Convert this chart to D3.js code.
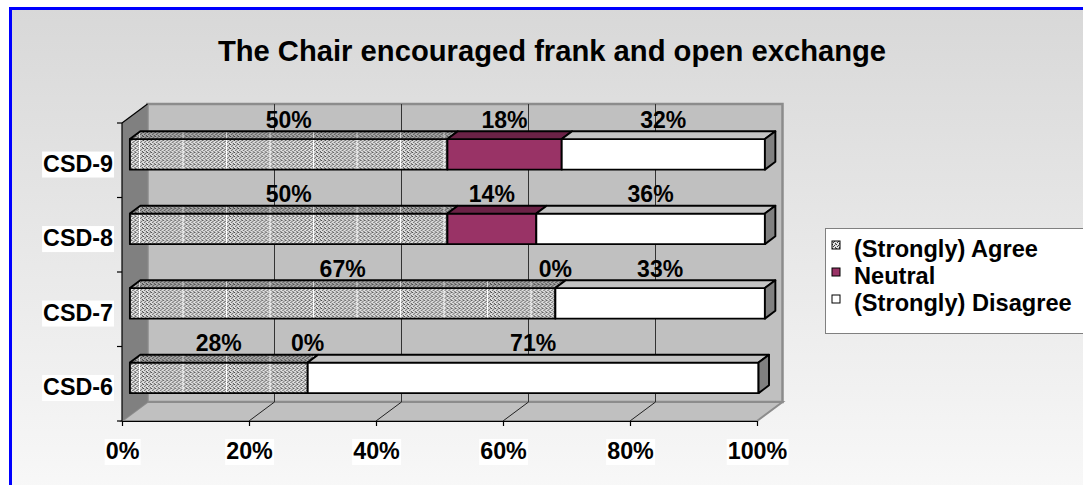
<!DOCTYPE html>
<html><head><meta charset="utf-8">
<script src="https://cdn.jsdelivr.net/npm/d3@7"></script>
<style>html,body{margin:0;padding:0;background:#fff;} svg{display:block;font-family:"Liberation Sans",Arial,sans-serif;}</style>
</head><body><svg id="c" width="1083" height="485"></svg>
<script>
const categories = ["CSD-9","CSD-8","CSD-7","CSD-6"];
const seriesNames = ["(Strongly) Agree","Neutral","(Strongly) Disagree"];
const agreeValues = [50,50,67,28];
const neutralValues = [18,14,0,0];
const disagreeValues = [32,36,33,71];
const xTickValues = [0,20,40,60,80,100];
const chartTitle = "The Chair encouraged frank and open exchange";

const W = 1083, H = 485;
const svg = d3.select("#c");
const plot = {left:122, right:757, top:123, bottom:421};
const DX = 25.5, DY = 19;          // wall depth
const zF = 0.31, zB = 0.72;        // bar depth (front/back fraction)
const barFrac = 0.41;

const x = d3.scaleLinear().domain([0,100]).range([plot.left, plot.right]);
const y = d3.scaleBand().domain(categories).range([plot.top, plot.bottom]);

// ---------- defs ----------
const defs = svg.append("defs");
const bg = defs.append("linearGradient").attr("id","bg").attr("x1",0).attr("y1",0).attr("x2",0).attr("y2",1);
bg.append("stop").attr("offset","0%").attr("stop-color","#d8d8d8");
bg.append("stop").attr("offset","100%").attr("stop-color","#f8f8f8");

function dotPattern(id, base, dot){
  const p = defs.append("pattern").attr("id",id).attr("patternUnits","userSpaceOnUse")
    .attr("width",4).attr("height",4);
  p.append("rect").attr("width",4).attr("height",4).attr("fill",base);
  [[0,0],[2,1],[1,2],[3,3],[3,0]].forEach(([a,b],i)=>{
    p.append("rect").attr("x",a).attr("y",b).attr("width",1).attr("height",1).attr("fill",dot).attr("opacity", i===4?0.5:1);
  });
}
dotPattern("dotsLight","#e2e2e2","#3c3c3c");
dotPattern("dotsDark","#aaaaaa","#333333");
function stripePattern(id, dots, line){
  const p = defs.append("pattern").attr("id",id).attr("patternUnits","userSpaceOnUse")
    .attr("x",139).attr("width",43.5).attr("height",4);
  p.append("rect").attr("width",43.5).attr("height",4).attr("fill","url(#"+dots+")");
  p.append("rect").attr("width",1).attr("height",4).attr("fill",line);
}
stripePattern("agreeFront","dotsLight","#ffffff");
stripePattern("agreeTop","dotsDark","#d4d4d4");

// ---------- background ----------
svg.append("rect").attr("width",W).attr("height",H).attr("fill","#fff");
svg.append("rect").attr("x",10.5).attr("y",8.5).attr("width",W).attr("height",H)
  .attr("fill","url(#bg)").attr("stroke","#0000ff").attr("stroke-width",3);

// ---------- title ----------
svg.append("text").attr("x",552).attr("y",61).attr("text-anchor","middle")
  .attr("font-size",29.2).attr("font-weight","bold").attr("fill","#000").text(chartTitle);

// ---------- walls ----------
const P = (v, yy, z) => [x(v) + z*DX, yy - z*DY];
const poly = pts => pts.map(p=>p.join(",")).join(" ");

// back wall
svg.append("polygon").attr("points", poly([P(0,plot.top,1),P(100,plot.top,1),P(100,plot.bottom,1),P(0,plot.bottom,1)]))
  .attr("fill","#c0c0c0").attr("stroke","#8c8c8c").attr("stroke-width",2.5);
// floor
svg.append("polygon").attr("points", poly([P(0,plot.bottom,0),P(100,plot.bottom,0),P(100,plot.bottom,1),P(0,plot.bottom,1)]))
  .attr("fill","#c0c0c0").attr("stroke","#8c8c8c").attr("stroke-width",2);
// left wall
svg.append("polygon").attr("points", poly([P(0,plot.top,0),P(0,plot.top,1),P(0,plot.bottom,1),P(0,plot.bottom,0)]))
  .attr("fill","#808080").attr("stroke","none");
svg.append("line").attr("x1",P(0,plot.top,0)[0]).attr("y1",P(0,plot.top,0)[1])
  .attr("x2",P(0,plot.top,1)[0]).attr("y2",P(0,plot.top,1)[1]).attr("stroke","#000").attr("stroke-width",1.2);

// gridlines (back wall + floor)
const inner = xTickValues.filter(v=>v>0 && v<100);
svg.selectAll(".gw").data(inner).join("line")
  .attr("x1",d=>P(d,plot.top,1)[0]).attr("y1",d=>P(d,plot.top,1)[1])
  .attr("x2",d=>P(d,plot.bottom,1)[0]).attr("y2",d=>P(d,plot.bottom,1)[1])
  .attr("stroke","#333").attr("stroke-width",1);
svg.selectAll(".gf").data(inner).join("line")
  .attr("x1",d=>P(d,plot.bottom,1)[0]).attr("y1",d=>P(d,plot.bottom,1)[1])
  .attr("x2",d=>P(d,plot.bottom,0)[0]).attr("y2",d=>P(d,plot.bottom,0)[1])
  .attr("stroke","#222").attr("stroke-width",1);

// ---------- y axis ----------
svg.append("line").attr("x1",plot.left).attr("x2",plot.left).attr("y1",plot.top).attr("y2",plot.bottom)
  .attr("stroke","#000").attr("stroke-width",1.2);
const bounds = categories.map(c=>y(c)).concat([plot.bottom]);
svg.selectAll(".yt").data(bounds).join("line")
  .attr("x1",plot.left-5).attr("x2",plot.left).attr("y1",d=>d).attr("y2",d=>d)
  .attr("stroke","#000").attr("stroke-width",1.2);
const yl = svg.append("g");
categories.forEach(c=>{
  const g = yl.append("g");
  const t = g.append("text").attr("x",113).attr("y", y(c)+y.bandwidth()/2+3+8.3)
    .attr("text-anchor","end").attr("font-size",23.3).attr("font-weight","bold").text(c);
  const b = t.node().getBBox();
  g.insert("rect","text").attr("x",b.x-1).attr("y",b.y+1).attr("width",b.width+2).attr("height",b.height)
    .attr("fill","#fff");
});

// ---------- bars ----------
const rows = categories.map((c,i)=>({cat:c, agree:agreeValues[i], neutral:neutralValues[i], disagree:disagreeValues[i]}));
const keys = ["agree","neutral","disagree"];
const stacked = d3.stack().keys(keys)(rows);
const frontFill = ["url(#agreeFront)","#993366","#ffffff"];
const topFill = ["url(#agreeTop)","#6b2246","#c4c4c4"];
const sideFill = ["#8a8a8a","#5a1c3b","#808080"];
const bars = svg.append("g").attr("stroke","#000").attr("stroke-width",1.9).attr("stroke-linejoin","round");
const h = y.bandwidth()*barFrac;
rows.forEach((r,ri)=>{
  const yc = y(r.cat)+y.bandwidth()/2;
  const yt = yc - h/2, yb = yc + h/2;
  let lastK = -1, total = 0;
  stacked.forEach((s,k)=>{
    const [v0,v1] = s[ri];
    if (v1 - v0 <= 0) return;
    lastK = k; total = v1;
    const a = P(v0,yt,zF), b = P(v1,yb,zF);
    bars.append("rect").attr("x",a[0]).attr("y",a[1]).attr("width",b[0]-a[0]).attr("height",b[1]-a[1])
      .attr("fill",frontFill[k]);
    bars.append("polygon").attr("points",poly([P(v0,yt,zF),P(v1,yt,zF),P(v1,yt,zB),P(v0,yt,zB)]))
      .attr("fill",topFill[k]);
  });
  if (lastK>=0){
    bars.append("polygon").attr("points",poly([P(total,yt,zF),P(total,yb,zF),P(total,yb,zB),P(total,yt,zB)]))
      .attr("fill",sideFill[lastK]);
  }
});

// ---------- data labels ----------
const lab = svg.append("g").attr("font-size",23).attr("font-weight","bold").attr("text-anchor","middle");
stacked.forEach((s,k)=>{
  s.forEach((d,ri)=>{
    const c = categories[ri];
    const val = d[1]-d[0];
    lab.append("text").attr("x", x((d[0]+d[1])/2)+zF*DX).attr("y", y(c)+4.5).text(val+"%");
  });
});

// ---------- x axis ----------
const xa = svg.append("g").attr("transform",`translate(0,${plot.bottom})`)
  .call(d3.axisBottom(x).tickValues(xTickValues).tickFormat(d=>d+"%").tickSize(5).tickSizeOuter(0));
xa.select(".domain").attr("stroke","#000").attr("stroke-width",1.2);
xa.selectAll(".tick line").attr("stroke","#000").attr("stroke-width",1.2);
xa.selectAll(".tick text").attr("dy",null).attr("y",38).attr("font-size",23.3).attr("font-weight","bold")
  .attr("font-family","'Liberation Sans',Arial,sans-serif").attr("fill","#000");
xa.selectAll(".tick").each(function(){
  const t = d3.select(this).select("text");
  const b = t.node().getBBox();
  d3.select(this).insert("rect","text").attr("x",b.x-1).attr("y",b.y+1).attr("width",b.width+2).attr("height",b.height).attr("fill","#fff");
});

// ---------- legend ----------
const lg = svg.append("g");
lg.append("rect").attr("x",825.5).attr("y",228.5).attr("width",262).attr("height",105)
  .attr("fill","#fff").attr("stroke","#808080").attr("stroke-width",1);
const legFill = ["url(#dotsLight)","#993366","#ffffff"];
seriesNames.forEach((n,i)=>{
  const yy = 241 + i*27;
  lg.append("rect").attr("x",832).attr("y",yy).attr("width",8).attr("height",8)
    .attr("fill",legFill[i]).attr("stroke","#000").attr("stroke-width",1);
  lg.append("text").attr("x",854).attr("y",yy+16).attr("font-size",23.6).attr("font-weight","bold").text(n);
});
</script></body></html>
